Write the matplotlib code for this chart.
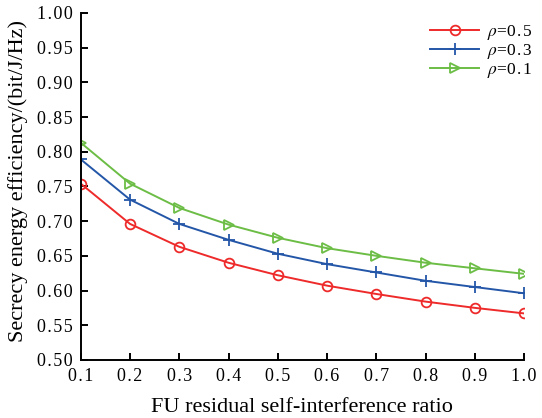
import matplotlib

matplotlib.use("Agg")
import matplotlib.pyplot as plt

x_vals = [0.1, 0.2, 0.3, 0.4, 0.5, 0.6, 0.7, 0.8, 0.9, 1.0]
see_rho05 = [0.754, 0.696, 0.663, 0.640, 0.622, 0.607, 0.595, 0.584, 0.575, 0.567]
see_rho03 = [0.789, 0.731, 0.696, 0.673, 0.653, 0.638, 0.626, 0.614, 0.605, 0.596]
see_rho01 = [0.813, 0.754, 0.719, 0.695, 0.676, 0.661, 0.650, 0.640, 0.632, 0.624]
y_ticks = [0.50, 0.55, 0.60, 0.65, 0.70, 0.75, 0.80, 0.85, 0.90, 0.95, 1.00]

HS = "\u200a"  # hair space, the original text is widely tracked


def spaced(s):
    return HS.join(s)


plt.rcParams["font.family"] = ["Liberation Serif", "DejaVu Serif"]
plt.rcParams["mathtext.fontset"] = "stix"

fig = plt.figure(figsize=(5.42, 4.18), dpi=100)
ax = fig.add_axes([0.149, 0.139, 0.818, 0.830])

ax.plot(x_vals, see_rho05, color="#ee2a2a", marker="o", markersize=7,
        markerfacecolor="none", markeredgewidth=1.3, linewidth=1.4,
        label=r"$\rho$=" + spaced("0.5"))
ax.plot(x_vals, see_rho03, color="#2456a8", marker="+", markersize=8,
        markeredgewidth=1.3, linewidth=1.4, label=r"$\rho$=" + spaced("0.3"))
ax.plot(x_vals, see_rho01, color="#6cbd45", marker=">", markersize=7,
        markerfacecolor="none", markeredgewidth=1.3, linewidth=1.4,
        label=r"$\rho$=" + spaced("0.1"))

ax.set_xlim(0.1, 1.0)
ax.set_ylim(0.5, 1.0)
ax.set_xticks(x_vals)
ax.set_xticklabels([spaced(f"{v:.1f}") for v in x_vals])
ax.set_yticks(y_ticks)
ax.set_yticklabels([spaced(f"{v:.2f}") for v in y_ticks])
ax.spines["top"].set_visible(False)
ax.spines["right"].set_visible(False)
ax.spines["left"].set_linewidth(1.4)
ax.spines["bottom"].set_linewidth(1.4)
ax.tick_params(direction="in", length=5, width=1.4, labelsize=13)
ax.tick_params(axis="y", pad=6)
ax.tick_params(axis="x", pad=6)

ax.set_xlabel("FU residual self-interference ratio", fontsize=16, labelpad=9)
ax.set_ylabel("Secrecy energy efficiency/(bit/J/Hz)", fontsize=16)
ax.yaxis.set_label_coords(-0.12, 0.517)

ax.legend(loc="upper right", frameon=False, fontsize=12.5, handlelength=2.8,
          labelspacing=0.0, handletextpad=0.5, borderaxespad=0.0,
          bbox_to_anchor=(1.035, 0.99))

fig.savefig("out.png", dpi=100)
